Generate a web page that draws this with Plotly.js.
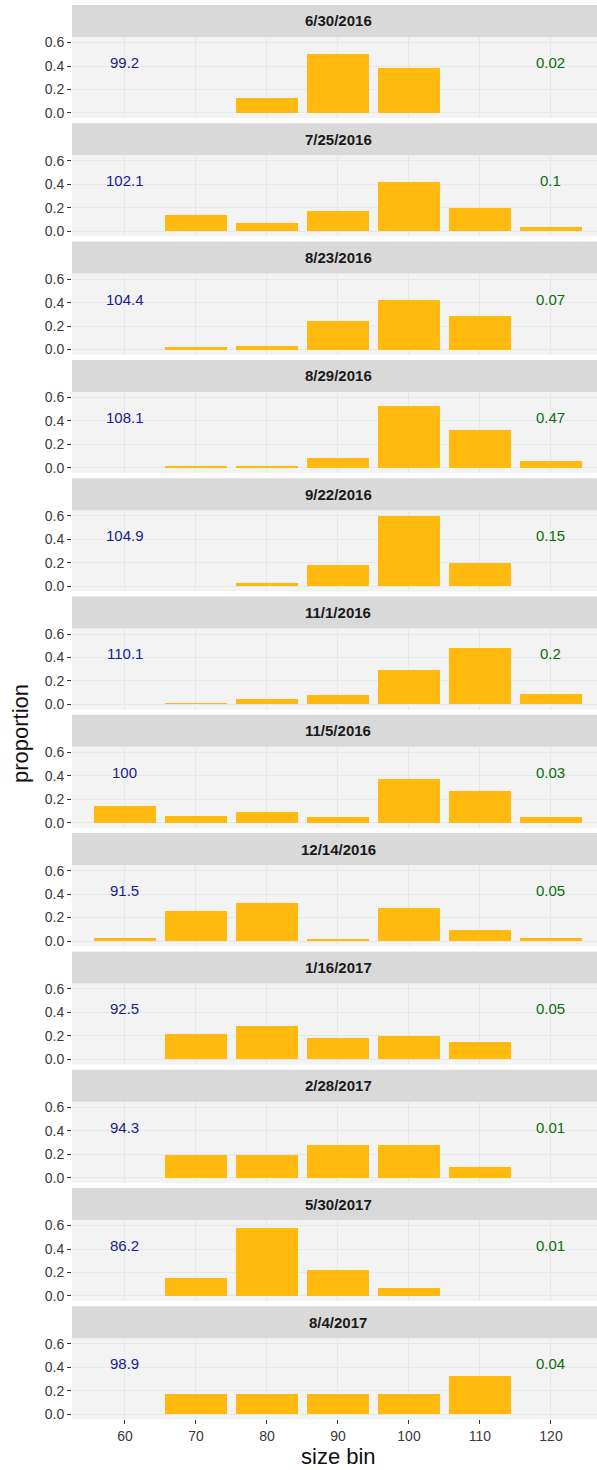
<!DOCTYPE html>
<html>
<head>
<meta charset="utf-8">
<script src="https://cdn.plot.ly/plotly-3.0.1.min.js"></script>
<style>html,body{margin:0;padding:0;background:#fff;}#chart{width:597px;height:1470px;}</style>
</head>
<body>
<div id="chart"></div>
<script>
// ---- data ----
const dates = ["6/30/2016","7/25/2016","8/23/2016","8/29/2016","9/22/2016","11/1/2016",
               "11/5/2016","12/14/2016","1/16/2017","2/28/2017","5/30/2017","8/4/2017"];
const bins = [60, 70, 80, 90, 100, 110, 120];
const xTickLabels = ["60","70","80","90","100","110","120"];
const yTickVals = [0, 0.2, 0.4, 0.6];
const yTickLabels = ["0.0","0.2","0.4","0.6"];

const prop_20160630 = [null, null, 0.13, 0.50, 0.38, null, null];
const prop_20160725 = [null, 0.14, 0.07, 0.17, 0.42, 0.20, 0.035];
const prop_20160823 = [null, 0.02, 0.03, 0.24, 0.42, 0.29, null];
const prop_20160829 = [null, 0.012, 0.012, 0.08, 0.53, 0.32, 0.06];
const prop_20160922 = [null, null, 0.03, 0.18, 0.60, 0.20, null];
const prop_20161101 = [null, 0.012, 0.05, 0.08, 0.29, 0.48, 0.09];
const prop_20161105 = [0.14, 0.055, 0.095, 0.05, 0.37, 0.27, 0.05];
const prop_20161214 = [0.03, 0.26, 0.32, 0.02, 0.28, 0.09, 0.03];
const prop_20170116 = [null, 0.22, 0.28, 0.18, 0.20, 0.15, null];
const prop_20170228 = [null, 0.19, 0.19, 0.28, 0.28, 0.09, null];
const prop_20170530 = [null, 0.15, 0.58, 0.22, 0.07, null, null];
const prop_20170804 = [null, 0.17, 0.17, 0.17, 0.17, 0.33, null];

const meanSize = ["99.2","102.1","104.4","108.1","104.9","110.1","100","91.5","92.5","94.3","86.2","98.9"];
const rightValue = ["0.02","0.1","0.07","0.47","0.15","0.2","0.03","0.05","0.05","0.01","0.01","0.04"];

const series = [prop_20160630, prop_20160725, prop_20160823, prop_20160829, prop_20160922, prop_20161101,
                prop_20161105, prop_20161214, prop_20170116, prop_20170228, prop_20170530, prop_20170804];

// ---- layout geometry (pixels) ----
const W = 597, H = 1470;
const ML = 72;
const firstStripTop = 5, period = 118.3, stripH = 32, panelH = 81;
const py = y => 1 - y / H;
const xCenterPaper = (338 - ML) / (W - ML);

const font = "Liberation Sans, Arial, sans-serif";
const traces = [];
const shapes = [];
const annotations = [];
const layout = {
  width: W, height: H,
  margin: {l: ML, r: 0, t: 0, b: 0},
  paper_bgcolor: "#ffffff",
  plot_bgcolor: "#F3F3F3",
  showlegend: false,
  bargap: 0,
  font: {family: font, color: "#333"},
  hovermode: false
};

for (let i = 0; i < dates.length; i++) {
  const n = i + 1;
  const xa = "x" + (n === 1 ? "" : n), ya = "y" + (n === 1 ? "" : n);
  const stripTop = firstStripTop + period * i;
  const panelTop = stripTop + stripH;
  const panelBot = panelTop + panelH;
  const last = i === dates.length - 1;

  traces.push({
    type: "bar", x: bins, y: series[i], width: 8.8,
    marker: {color: "#FFB90F", line: {width: 0}},
    xaxis: xa, yaxis: ya, hoverinfo: "skip"
  });

  layout["xaxis" + (n === 1 ? "" : n)] = {
    domain: [0, 1], anchor: ya, range: [52.54, 126.48],
    tickvals: bins, ticktext: xTickLabels,
    showticklabels: last, ticks: last ? "outside" : "", ticklen: 4, tickcolor: "#333", tickwidth: 1,
    tickfont: {size: 14, color: "#3a3a3a", family: font},
    showgrid: true, gridcolor: "#E3E8EB", gridwidth: 1,
    zeroline: false, showline: false, fixedrange: true
  };
  layout["yaxis" + (n === 1 ? "" : n)] = {
    domain: [py(panelBot), py(panelTop)], anchor: xa, range: [-0.043, 0.647],
    tickvals: yTickVals, ticktext: yTickLabels,
    ticks: "outside", ticklen: 4, tickcolor: "#333", tickwidth: 1,
    tickfont: {size: 14, color: "#3a3a3a", family: font},
    showgrid: true, gridcolor: "#E3E8EB", gridwidth: 1,
    zeroline: false, showline: false, fixedrange: true
  };

  shapes.push({
    type: "rect", xref: "paper", yref: "paper",
    x0: 0, x1: 1, y0: py(panelTop), y1: py(stripTop),
    fillcolor: "#D9D9D9", line: {width: 0}, layer: "below"
  });
  annotations.push({
    xref: "paper", yref: "paper", x: xCenterPaper, y: py(stripTop + stripH / 2),
    text: "<b>" + dates[i] + "</b>", showarrow: false,
    font: {size: 15, color: "#1A1A1A", family: font}, xanchor: "center", yanchor: "middle"
  });
  annotations.push({
    xref: xa, yref: ya, x: 60, y: 0.43, text: meanSize[i], showarrow: false,
    font: {size: 15, color: "#1B1B8F", family: font}, xanchor: "center", yanchor: "middle"
  });
  annotations.push({
    xref: xa, yref: ya, x: 120, y: 0.43, text: rightValue[i], showarrow: false,
    font: {size: 15, color: "#0A6E0A", family: font}, xanchor: "center", yanchor: "middle"
  });
}

annotations.push({
  xref: "paper", yref: "paper", x: (20 - ML) / (W - ML), y: py(734),
  text: "proportion", showarrow: false, textangle: -90,
  font: {size: 22, color: "#111", family: font}, xanchor: "center", yanchor: "middle"
});
annotations.push({
  xref: "paper", yref: "paper", x: xCenterPaper, y: py(1456),
  text: "size bin", showarrow: false,
  font: {size: 22, color: "#111", family: font}, xanchor: "center", yanchor: "middle"
});

layout.shapes = shapes;
layout.annotations = annotations;

Plotly.newPlot("chart", traces, layout, {staticPlot: true, displayModeBar: false});
</script>
</body>
</html>
